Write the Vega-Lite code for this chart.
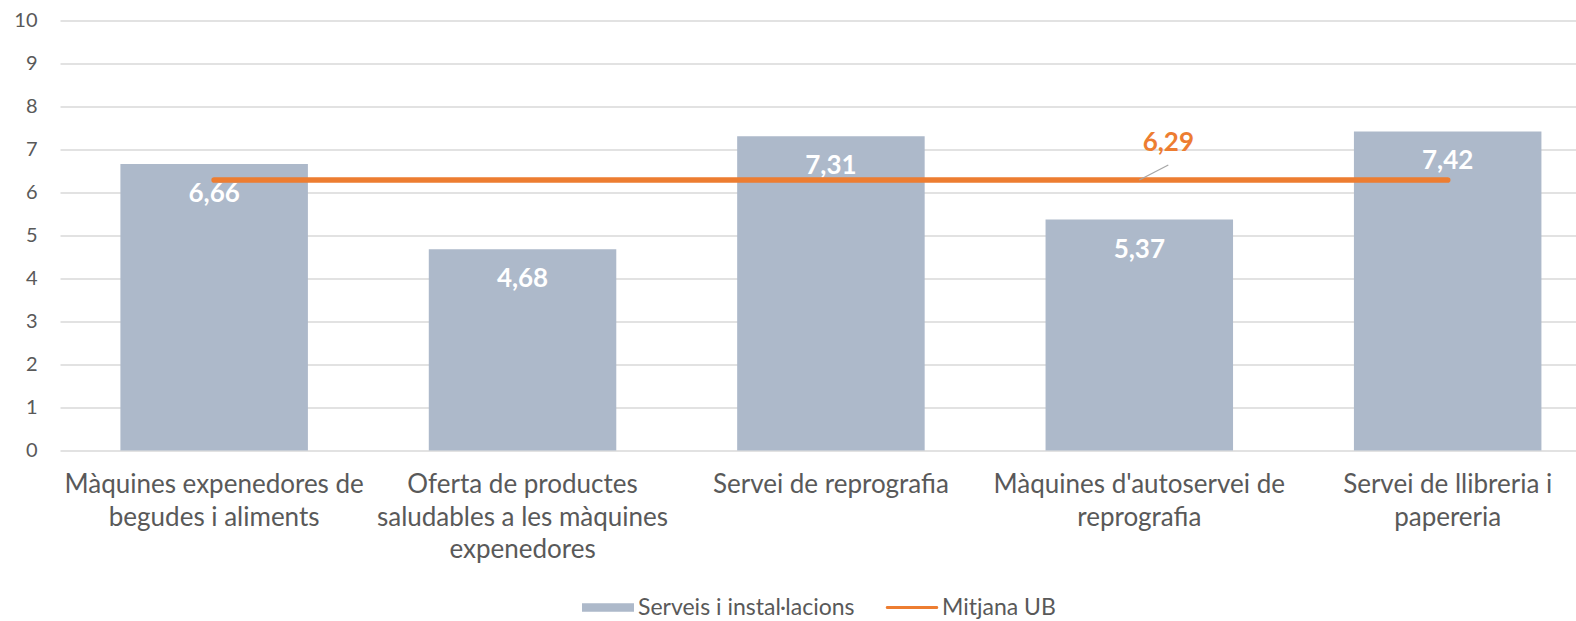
{
  "$schema": "https://vega.github.io/schema/vega-lite/v6.json",
  "width": 1516,
  "height": 430,
  "autosize": {"type": "none"},
  "padding": {"left": 60, "top": 20.5, "right": 0, "bottom": 170.5},
  "background": "white",
  "data": {
    "values": [
      {"categoria": "Màquines expenedores de begudes i aliments", "valor": 6.66, "mitjana": 6.29},
      {"categoria": "Oferta de productes saludables a les màquines expenedores", "valor": 4.68, "mitjana": 6.29},
      {"categoria": "Servei de reprografia", "valor": 7.31, "mitjana": 6.29},
      {"categoria": "Màquines d'autoservei de reprografia", "valor": 5.37, "mitjana": 6.29},
      {"categoria": "Servei de llibreria i papereria", "valor": 7.42, "mitjana": 6.29}
    ]
  },
  "config": {
    "locale": {"number": {"decimal": ",", "thousands": ".", "grouping": [3], "currency": ["", " €"]}},
    "view": {"stroke": null},
    "font": "Lato"
  },
  "encoding": {
    "x": {
      "field": "categoria",
      "type": "nominal",
      "sort": null,
      "scale": {"paddingInner": 0.392, "paddingOuter": 0.154, "align": 0.636},
      "axis": {
        "title": null,
        "labelAngle": 0,
        "domain": false,
        "ticks": false,
        "labelFont": "Lato",
        "labelFontSize": 26,
        "labelColor": "#595959",
        "labelPadding": 21,
        "labelLineHeight": 32.5,
        "labelBaseline": "top",
        "labelLimit": 400,
        "labelExpr": "datum.label == 'Màquines expenedores de begudes i aliments' ? ['Màquines expenedores de', 'begudes i aliments'] : datum.label == 'Oferta de productes saludables a les màquines expenedores' ? ['Oferta de productes', 'saludables a les màquines', 'expenedores'] : datum.label == 'Servei de llibreria i papereria' ? ['Servei de llibreria i', 'papereria'] : datum.label == 'Servei de reprografia' ? 'Servei de reprografia' : ['Màquines d\\'autoservei de', 'reprografia']"
      }
    }
  },
  "layer": [
    {
      "mark": {"type": "bar", "color": "#ADB9CA"},
      "encoding": {
        "y": {
          "field": "valor",
          "type": "quantitative",
          "scale": {"domain": [0, 10], "nice": false},
          "axis": {
            "title": null,
            "values": [0, 1, 2, 3, 4, 5, 6, 7, 8, 9, 10],
            "domain": false,
            "ticks": false,
            "grid": true,
            "gridColor": "#D9D9D9",
            "gridWidth": 1.4,
            "labelFont": "Lato",
            "labelFontSize": 20,
            "labelColor": "#595959",
            "labelPadding": 23
          }
        },
        "color": {
          "datum": "Serveis i instal·lacions",
          "type": "nominal",
          "scale": {"domain": ["Serveis i instal·lacions", "Mitjana UB"], "range": ["#ADB9CA", "#ED7D31"]},
          "legend": {
            "title": null,
            "orient": "none",
            "direction": "horizontal",
            "legendX": 522,
            "legendY": 561,
            "symbolSize": 2704,
            "labelFont": "Lato",
            "labelFontSize": 23,
            "labelColor": "#595959",
            "labelOffset": 4,
            "labelLimit": 400,
            "columnPadding": 30,
            "symbolStrokeWidth": 0,
            "encode": {
              "symbols": {
                "update": {
                  "shape": {"signal": "datum.value == 'Mitjana UB' ? 'M-0.95,-0.06L0.95,-0.06A0.06,0.06 0 0 1 0.95,0.06L-0.95,0.06A0.06,0.06 0 0 1 -0.95,-0.06Z' : 'M-1,-0.16L1,-0.16L1,0.16L-1,0.16Z'"},
                  "fill": {"scale": "color", "field": "value"},
                  "stroke": {"value": "transparent"},
                  "strokeWidth": {"value": 0},
                  "opacity": {"value": 1}
                }
              }
            }
          }
        }
      }
    },
    {
      "mark": {"type": "text", "color": "white", "fontSize": 26, "fontWeight": "bold", "font": "Lato", "baseline": "middle", "dy": 30},
      "encoding": {
        "y": {"field": "valor", "type": "quantitative"},
        "text": {"field": "valor", "type": "quantitative", "format": ".2f"}
      }
    },
    {
      "mark": {"type": "line", "strokeWidth": 5.6, "strokeCap": "round"},
      "encoding": {
        "y": {"field": "mitjana", "type": "quantitative"},
        "color": {"datum": "Mitjana UB", "type": "nominal"}
      }
    },
    {
      "transform": [{"filter": "datum.categoria == \"Màquines d'autoservei de reprografia\""}],
      "mark": {"type": "point", "shape": "M0,0L1,-0.517", "size": 3364, "filled": false, "stroke": "#A6A6A6", "strokeWidth": 1.3, "opacity": 1},
      "encoding": {
        "y": {"field": "mitjana", "type": "quantitative"}
      }
    },
    {
      "transform": [{"filter": "datum.categoria == \"Màquines d'autoservei de reprografia\""}],
      "mark": {"type": "text", "color": "#ED7D31", "fontSize": 26, "fontWeight": "bold", "font": "Lato", "baseline": "middle", "dx": 29, "dy": -37},
      "encoding": {
        "y": {"field": "mitjana", "type": "quantitative"},
        "text": {"field": "mitjana", "type": "quantitative", "format": ".2f"}
      }
    }
  ]
}
